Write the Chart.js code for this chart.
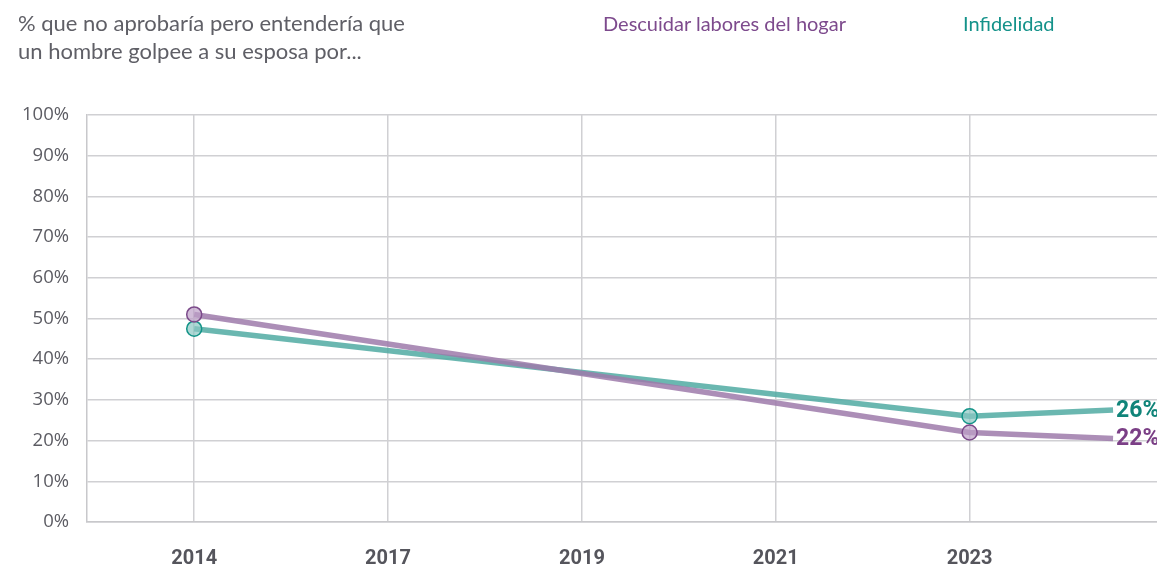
<!DOCTYPE html>
<html>
<head>
<meta charset="utf-8">
<script src="https://cdn.jsdelivr.net/npm/chart.js@4"></script>
<style>
  html, body { margin: 0; padding: 0; background: #fff; }
  #wrap { position: relative; width: 1157px; height: 565px; overflow: hidden; }
  #title { position: absolute; left: 18px; top: 9px; font-family: Lato, sans-serif; font-size: 22px; line-height: 28px; color: #5f5f66; }
  .leg { position: absolute; top: 11px; font-family: Lato, sans-serif; font-size: 20px; }
  canvas { position: absolute; left: 0; top: 0; }
</style>
</head>
<body>
<div id="wrap">
  <canvas id="chart" width="1168" height="565"></canvas>
  <div id="title">% que no aprobaría pero entendería que<br>un hombre golpee a su esposa por...</div>
  <div class="leg" style="left:603px;color:#7d4a8d">Descuidar labores del hogar</div>
  <div class="leg" style="left:963px;color:#14928a">Infidelidad</div>
</div>
<script>
// Survey years shown on the axis (positions 0..4), plus a trailing point used for the end labels
const years = ['2014', '2017', '2019', '2021', '2023'];
const pointPos = [0, 4, 4.74];
const descuidar = [51, 22, 20.5];
const infidelidad = [47.5, 26, 27.5];
const endLabels = ['22%', '26%'];
const yTicks = [0, 10, 20, 30, 40, 50, 60, 70, 80, 90, 100];

function toPoints(vals) {
    return vals.map(function(v, i) { return { x: pointPos[i], y: v }; });
}

// draws the value at the end of each line
const endLabelPlugin = {
    id: 'endLabels',
    afterDatasetsDraw: function(chart) {
        const ctx = chart.ctx;
        chart.data.datasets.forEach(function(ds, i) {
            const meta = chart.getDatasetMeta(i);
            const last = meta.data[meta.data.length - 1];
            ctx.save();
            ctx.font = 'bold 23px Roboto';
            ctx.fillStyle = ds.labelColor;
            ctx.textAlign = 'left';
            ctx.textBaseline = 'middle';
            ctx.fillText(endLabels[i], last.x + 3, last.y + 1);
            ctx.restore();
        });
    }
};

new Chart(document.getElementById('chart'), {
    type: 'line',
    data: {
        datasets: [
            {
                label: 'Descuidar labores del hogar',
                data: toPoints(descuidar),
                borderColor: 'rgba(158, 122, 170, 0.85)',
                borderWidth: 5.5,
                pointRadius: [7.5, 7.5, 0],
                pointBackgroundColor: 'rgba(190, 160, 200, 0.7)',
                pointBorderColor: '#7b4a8a',
                pointBorderWidth: 1.5,
                labelColor: '#7b3f86'
            },
            {
                label: 'Infidelidad',
                data: toPoints(infidelidad),
                borderColor: 'rgba(80, 170, 162, 0.85)',
                borderWidth: 5.5,
                pointRadius: [7.5, 7.5, 0],
                pointBackgroundColor: 'rgba(140, 200, 195, 0.7)',
                pointBorderColor: '#139488',
                pointBorderWidth: 1.5,
                labelColor: '#108479'
            }
        ]
    },
    options: {
        responsive: false,
        animation: false,
        layout: { padding: { top: 115, right: 0, left: 0, bottom: 0 } },
        scales: {
            x: {
                type: 'linear',
                min: -0.553,
                max: 4.977,
                afterBuildTicks: function(axis) {
                    axis.ticks = years.map(function(y, i) { return { value: i }; });
                },
                afterFit: function(axis) { axis.height = 43; },
                grid: { color: '#d0d0d3', lineWidth: 1.5, drawTicks: false },
                border: { color: '#c8c8cb', width: 1.5 },
                ticks: {
                    padding: 25,
                    color: '#55555c',
                    font: { family: 'Roboto', size: 20, weight: 'bold' },
                    callback: function(v) { return years[v]; }
                }
            },
            y: {
                min: 0,
                max: 100,
                afterBuildTicks: function(axis) {
                    axis.ticks = yTicks.map(function(v) { return { value: v }; });
                },
                afterFit: function(axis) { axis.width = 87; },
                grid: { color: '#d0d0d3', lineWidth: 1.5, drawTicks: false },
                border: { color: '#c8c8cb', width: 1.5 },
                ticks: {
                    padding: 18,
                    color: '#5c5c63',
                    font: { family: 'Open Sans', size: 18.5 },
                    callback: function(v) { return v + '%'; }
                }
            }
        },
        plugins: {
            legend: { display: false },
            tooltip: { enabled: false }
        }
    },
    plugins: [endLabelPlugin]
});
</script>
</body>
</html>
